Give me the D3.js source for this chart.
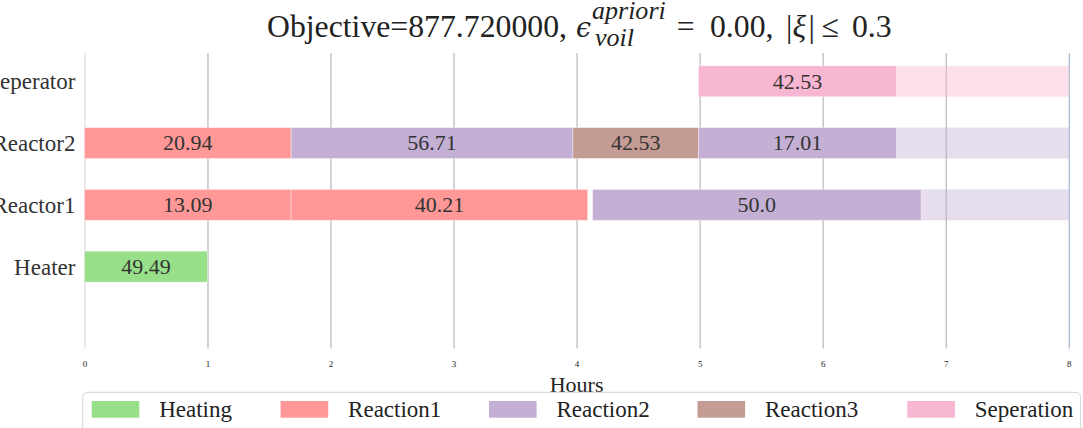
<!DOCTYPE html>
<html><head><meta charset="utf-8">
<script src="https://cdn.jsdelivr.net/npm/d3@7"></script>
<style>body{margin:0;background:#fff} svg{display:block} text{font-family:"Liberation Serif", serif}</style>
</head><body><svg id="c" width="1083" height="428"></svg>
<script>
// ---- data ----
const units = ["Heater", "Reactor1", "Reactor2", "Seperator"];
const taskNames = ["Heating", "Reaction1", "Reaction2", "Reaction3", "Seperation"];
const taskColors = ["#98df8a", "#ff9896", "#c5b0d5", "#c49c94", "#f7b6d2"];
const xTicks = [0, 1, 2, 3, 4, 5, 6, 7, 8];
const segUnit  = ["Heater", "Reactor1", "Reactor1", "Reactor1", "Reactor2", "Reactor2", "Reactor2", "Reactor2", "Seperator"];
const segTask  = ["Heating", "Reaction1", "Reaction1", "Reaction2", "Reaction1", "Reaction2", "Reaction3", "Reaction2", "Seperation"];
const segStart = [0, 0, 1.68, 4.13, 0, 1.68, 3.97, 4.99, 4.99];
const segEnd   = [1, 1.68, 4.09, 6.80, 1.68, 3.97, 4.99, 6.60, 6.60];
const segLabel = ["49.49", "13.09", "40.21", "50.0", "20.94", "56.71", "42.53", "17.01", "42.53"];
const tailUnit  = ["Reactor1", "Reactor2", "Seperator"];
const tailTask  = ["Reaction2", "Reaction2", "Seperation"];
const tailStart = [6.80, 6.60, 6.60];
const tailEnd   = [8, 8, 8];
const horizon = 8;
const xLabel = "Hours";

// ---- layout ----
const plotTop = 53, plotBottom = 348.5, plotLeft = 84.4, plotRight = 1068.8;
const svg = d3.select("#c");
const color = d3.scaleOrdinal().domain(taskNames).range(taskColors);
const x = d3.scaleLinear().domain([0, 8]).range([plotLeft, plotRight]);
const yLin = d3.scaleLinear().domain([-1.324, 3.457]).range([plotBottom, plotTop]);
const y = d3.scalePoint().domain(units).range([yLin(0), yLin(3)]);
const barH = yLin(0) - yLin(0.5);

// grid / x axis
const xAxis = d3.axisBottom(x).tickValues(xTicks).tickFormat(d3.format("d"))
  .tickSize(-(plotBottom - plotTop)).tickPadding(12.5);
const gx = svg.append("g").attr("transform", `translate(0,${plotBottom})`).call(xAxis);
gx.attr("font-family", null).attr("font-size", null);
gx.select(".domain").remove();
gx.selectAll(".tick line")
  .attr("stroke", d => d === 0 ? "#e2e2e2" : (d === horizon ? "#a9bcd3" : "#bdbdbd"))
  .attr("stroke-width", d => d === 0 ? 1.4 : 1.3);
gx.selectAll(".tick text").style("font-size", "9px").attr("fill", "#222");

// y axis
const yAxis = d3.axisLeft(y).tickSize(0).tickPadding(9);
const gy = svg.append("g").attr("transform", `translate(${plotLeft},0)`).call(yAxis);
gy.attr("font-family", null).attr("font-size", null);
gy.select(".domain").remove();
gy.selectAll(".tick text").style("font-size", "23px").attr("fill", "#333");

// tails (remaining capacity, translucent)
svg.append("g").selectAll("rect").data(d3.range(tailUnit.length)).join("rect")
  .attr("x", i => x(tailStart[i])).attr("width", i => x(tailEnd[i]) - x(tailStart[i]))
  .attr("y", i => y(tailUnit[i]) - barH / 2).attr("height", barH)
  .attr("fill", i => color(tailTask[i])).attr("fill-opacity", 0.42);

// segments
const seg = svg.append("g").selectAll("g").data(d3.range(segUnit.length)).join("g");
seg.append("rect")
  .attr("x", i => x(segStart[i])).attr("width", i => x(segEnd[i]) - x(segStart[i]))
  .attr("y", i => y(segUnit[i]) - barH / 2).attr("height", barH)
  .attr("fill", i => color(segTask[i]))
  .attr("stroke", "#fff").attr("stroke-opacity", 0.45).attr("stroke-width", 0.8);
seg.append("text")
  .attr("x", i => x((segStart[i] + segEnd[i]) / 2)).attr("y", i => y(segUnit[i]))
  .attr("dy", "0.33em").attr("text-anchor", "middle")
  .style("font-size", "22px").attr("fill", "#333")
  .text(i => segLabel[i]);

// x label
svg.append("text").attr("x", x(4)).attr("y", 391.5).attr("text-anchor", "middle")
  .style("font-size", "22px").attr("fill", "#222").text(xLabel);

// legend
const lg = svg.append("g");
lg.append("rect").attr("x", 82.7).attr("y", 392.3).attr("width", 998).attr("height", 70)
  .attr("rx", 5).attr("fill", "#fff").attr("fill-opacity", 0.85).attr("stroke", "#d4d4d4").attr("stroke-width", 1);
const legendX = [91.7, 280.6, 489, 697.5, 907.3];
const li = lg.selectAll("g.item").data(taskNames).join("g").attr("class", "item")
  .attr("transform", (d, i) => `translate(${legendX[i]},0)`);
li.append("rect").attr("x", 0).attr("y", 401).attr("width", 47.6).attr("height", 16.7).attr("fill", d => color(d));
li.append("text").attr("x", 67.5).attr("y", 417).style("font-size", "23px").attr("fill", "#222").text(d => d);

// title (with math-like super/subscripts)
const tg = svg.append("g").attr("fill", "#222");
const base = 36.5;
let fs = 31;
const p1 = tg.append("text").attr("x", 267).attr("y", base).style("font-size", fs + "px").text("Objective=877.720000,");
const w1 = p1.node().getComputedTextLength();
fs = fs * 300 / w1;
p1.style("font-size", fs + "px");
const part = (tx, px, italic) => tg.append("text").attr("x", px).attr("y", base)
  .style("font-size", fs + "px").attr("font-style", italic ? "italic" : null).text(tx);
tg.append("text").attr("x", 576).attr("y", base).style("font-size", (fs * 0.85) + "px").attr("font-style", "italic")
  .style("font-family", "'DejaVu Serif', serif").text("ϵ");
tg.append("text").attr("x", 592).attr("y", 18.5).style("font-size", (fs * 0.82) + "px").attr("font-style", "italic").text("apriori");
tg.append("text").attr("x", 595).attr("y", 46).style("font-size", (fs * 0.82) + "px").attr("font-style", "italic").text("voil");
part("=", 676.8);
part("0.00,", 710);
part("|", 786);
part("ξ", 792.5, true);
part("|", 808.5);
part("≤", 821.5);
part("0.3", 852);
</script></body></html>
